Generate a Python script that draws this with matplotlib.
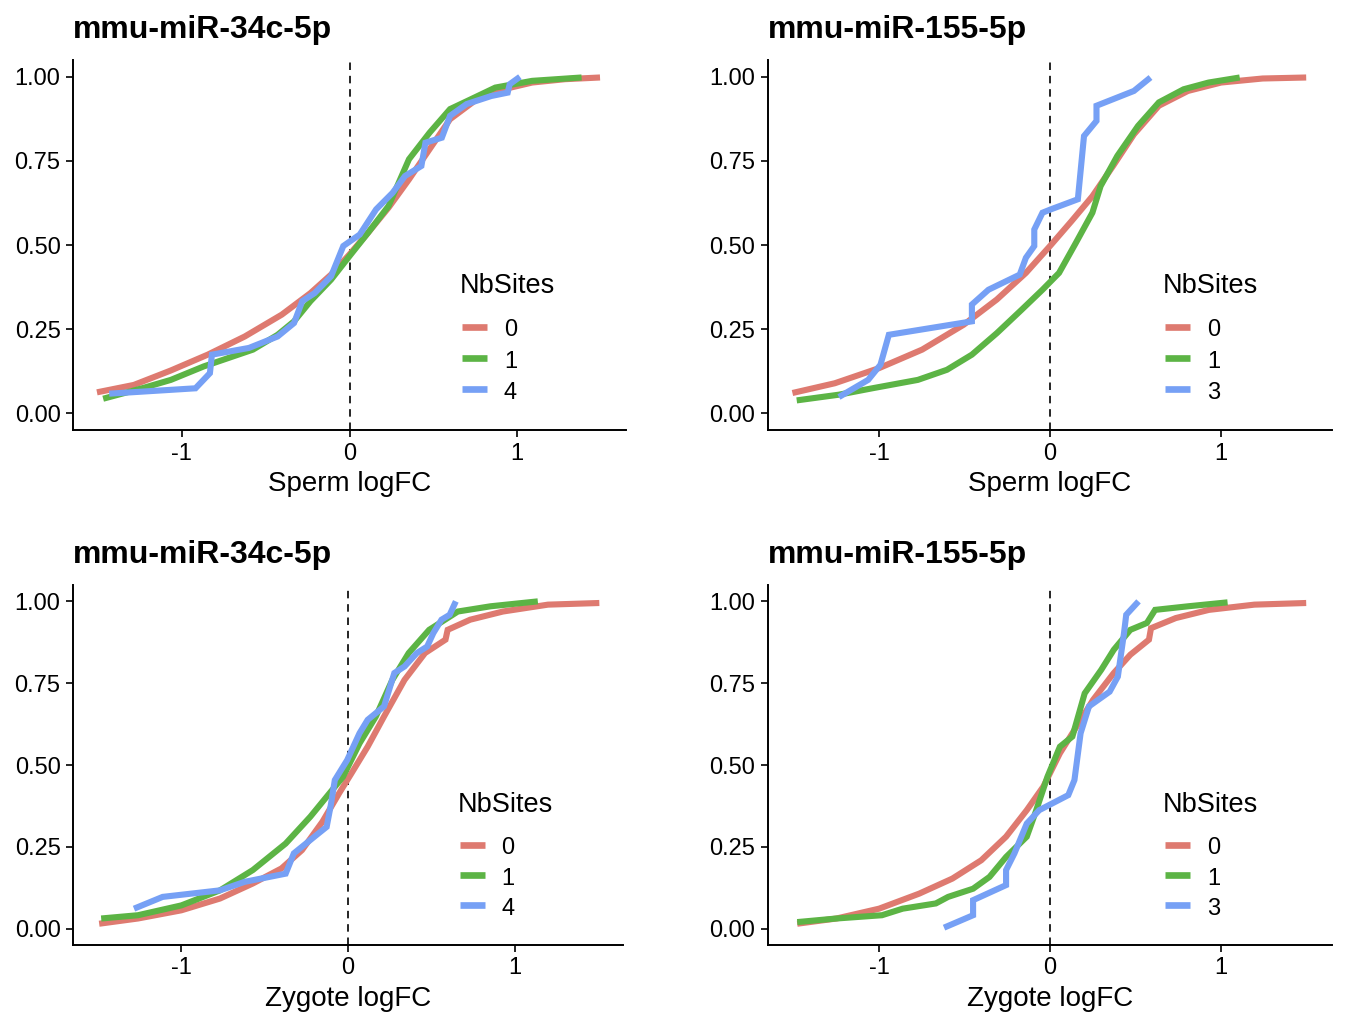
import matplotlib

matplotlib.use("Agg")
from matplotlib import pyplot as plt  # noqa: E402

# ---- data (cumulative fraction vs logFC) ----
site_labels_34c = ["0", "1", "4"]
site_labels_155 = ["0", "1", "3"]
titles = ["mmu-miR-34c-5p", "mmu-miR-155-5p", "mmu-miR-34c-5p", "mmu-miR-155-5p"]
xlabels = ["Sperm logFC", "Sperm logFC", "Zygote logFC", "Zygote logFC"]

# sperm, miR-34c
sp34_x0 = [-1.507, -1.287, -1.066, -0.846, -0.625, -0.404, -0.233, -0.11, 0.0, 0.11,
           0.233, 0.355, 0.478, 0.6, 0.748, 0.919, 1.09, 1.287, 1.495]
sp34_y0 = [0.062, 0.084, 0.127, 0.174, 0.228, 0.293, 0.357, 0.412, 0.472, 0.536,
           0.611, 0.695, 0.785, 0.874, 0.929, 0.963, 0.983, 0.993, 0.998]
sp34_x1 = [-1.47, -1.238, -1.066, -0.87, -0.723, -0.576, -0.429, -0.331, -0.233, -0.11,
           0.0, 0.11, 0.233, 0.355, 0.478, 0.6, 0.723, 0.87, 1.09, 1.385]
sp34_y1 = [0.043, 0.074, 0.099, 0.139, 0.164, 0.189, 0.233, 0.273, 0.333, 0.397,
           0.467, 0.536, 0.616, 0.755, 0.834, 0.904, 0.933, 0.968, 0.988, 0.998]
sp34_x4 = [-1.434, -0.919, -0.833, -0.821, -0.6, -0.429, -0.331, -0.282, -0.208, -0.11,
           -0.037, 0.061, 0.159, 0.257, 0.331, 0.429, 0.453, 0.551, 0.6, 0.699,
           0.846, 0.944, 0.956, 1.017]
sp34_y4 = [0.058, 0.074, 0.119, 0.174, 0.194, 0.228, 0.268, 0.333, 0.357, 0.407,
           0.497, 0.531, 0.606, 0.655, 0.705, 0.735, 0.804, 0.819, 0.884, 0.919,
           0.943, 0.953, 0.978, 1.0]

# sperm, miR-155
sp155_x0 = [-1.507, -1.259, -1.0, -0.748, -0.505, -0.311, -0.141, 0.0, 0.126, 0.248,
            0.369, 0.491, 0.637, 0.807, 1.001, 1.244, 1.499]
sp155_y0 = [0.06, 0.089, 0.134, 0.189, 0.263, 0.338, 0.417, 0.497, 0.571, 0.645,
            0.735, 0.829, 0.914, 0.958, 0.983, 0.995, 0.998]
sp155_x1 = [-1.482, -1.235, -1.04, -0.773, -0.603, -0.457, -0.311, -0.165, -0.044, 0.053,
            0.151, 0.248, 0.296, 0.394, 0.515, 0.637, 0.782, 0.928, 1.11]
sp155_y1 = [0.038, 0.055, 0.074, 0.099, 0.129, 0.174, 0.238, 0.308, 0.367, 0.417,
            0.506, 0.596, 0.675, 0.765, 0.854, 0.924, 0.963, 0.983, 0.998]
sp155_x3 = [-1.235, -1.064, -0.992, -0.943, -0.457, -0.457, -0.36, -0.177, -0.141, -0.092,
            -0.092, -0.044, 0.005, 0.163, 0.199, 0.272, 0.272, 0.491, 0.588]
sp155_y3 = [0.048, 0.099, 0.144, 0.233, 0.273, 0.323, 0.367, 0.412, 0.462, 0.497,
            0.546, 0.596, 0.606, 0.636, 0.824, 0.869, 0.914, 0.958, 0.998]

# zygote, miR-34c
zy34_x0 = [-1.493, -1.26, -1.0, -0.768, -0.571, -0.399, -0.276, -0.153, -0.054, 0.02,
           0.118, 0.216, 0.339, 0.462, 0.585, 0.598, 0.733, 0.93, 1.2, 1.508]
zy34_y0 = [0.015, 0.031, 0.056, 0.092, 0.138, 0.184, 0.24, 0.327, 0.413, 0.474,
           0.556, 0.648, 0.76, 0.842, 0.883, 0.913, 0.944, 0.969, 0.99, 0.995]
zy34_x1 = [-1.481, -1.26, -1.0, -0.768, -0.571, -0.374, -0.226, -0.128, -0.03, 0.069,
           0.167, 0.266, 0.364, 0.487, 0.659, 0.856, 1.139]
zy34_y1 = [0.031, 0.041, 0.071, 0.117, 0.179, 0.26, 0.342, 0.403, 0.464, 0.566,
           0.648, 0.76, 0.842, 0.913, 0.969, 0.985, 1.0]
zy34_x4 = [-1.284, -1.112, -0.768, -0.62, -0.374, -0.325, -0.177, -0.128, -0.103, -0.079,
           -0.005, 0.069, 0.118, 0.216, 0.278, 0.339, 0.413, 0.475, 0.512, 0.561,
           0.61, 0.647]
zy34_y4 = [0.061, 0.097, 0.117, 0.143, 0.168, 0.23, 0.291, 0.311, 0.378, 0.454,
           0.515, 0.597, 0.638, 0.679, 0.781, 0.801, 0.842, 0.862, 0.903, 0.944,
           0.959, 1.0]

# zygote, miR-155
zy155_x0 = [-1.479, -1.249, -1.0, -0.765, -0.571, -0.402, -0.257, -0.136, -0.039, 0.058,
            0.155, 0.252, 0.373, 0.47, 0.579, 0.591, 0.736, 0.93, 1.196, 1.499]
zy155_y0 = [0.015, 0.031, 0.061, 0.107, 0.153, 0.209, 0.281, 0.362, 0.434, 0.536,
            0.617, 0.699, 0.781, 0.837, 0.883, 0.918, 0.949, 0.974, 0.99, 0.995]
zy155_x1 = [-1.479, -1.249, -0.983, -0.862, -0.668, -0.596, -0.45, -0.354, -0.257, -0.136,
            -0.087, -0.015, 0.058, 0.131, 0.203, 0.3, 0.373, 0.47, 0.567, 0.615,
            0.809, 1.039]
zy155_y1 = [0.02, 0.031, 0.041, 0.061, 0.077, 0.097, 0.122, 0.158, 0.219, 0.281,
            0.352, 0.464, 0.556, 0.587, 0.719, 0.791, 0.852, 0.913, 0.934, 0.974,
            0.985, 0.997]
zy155_x3 = [-0.62, -0.45, -0.45, -0.257, -0.257, -0.208, -0.136, -0.063, 0.107, 0.143,
            0.179, 0.228, 0.349, 0.397, 0.433, 0.446, 0.518]
zy155_y3 = [0.003, 0.041, 0.087, 0.133, 0.179, 0.23, 0.321, 0.362, 0.408, 0.454,
            0.597, 0.679, 0.724, 0.77, 0.903, 0.959, 1.0]

panels = [
    [(sp34_x0, sp34_y0), (sp34_x1, sp34_y1), (sp34_x4, sp34_y4)],
    [(sp155_x0, sp155_y0), (sp155_x1, sp155_y1), (sp155_x3, sp155_y3)],
    [(zy34_x0, zy34_y0), (zy34_x1, zy34_y1), (zy34_x4, zy34_y4)],
    [(zy155_x0, zy155_y0), (zy155_x1, zy155_y1), (zy155_x3, zy155_y3)],
]
panel_labels = [site_labels_34c, site_labels_155, site_labels_34c, site_labels_155]
colors = ["#DE7A70", "#5CB445", "#76A0F5"]

plt.rcParams["font.family"] = ["Liberation Sans", "DejaVu Sans"]
plt.rcParams["axes.unicode_minus"] = False

W, H = 1348, 1027
fig = plt.figure(figsize=(W / 100, H / 100), dpi=100)

# axes boxes in pixels: left, top, right, bottom
boxes = [(73, 60, 626, 430), (768, 60, 1332, 430),
         (73, 585, 623, 945), (768, 585, 1332, 945)]

# legend layout in axes fractions
leg_title_xy = (0.700, 0.370)
key_x = (0.704, 0.749)
key_y = [0.279, 0.194, 0.110]
label_x = 0.779
label_drop = 0.026

for i, (l, t, r, b) in enumerate(boxes):
    ax = fig.add_axes([l / W, 1 - b / H, (r - l) / W, (b - t) / H])
    ax.axvline(0, color="black", lw=1.2, ls=(0, (4.5, 3.5)), zorder=1)
    for (xs, ys), c in zip(panels[i], colors):
        ax.plot(xs, ys, color=c, lw=4.4, solid_capstyle="butt",
                solid_joinstyle="miter", zorder=2)
    ax.set_xlim(-1.65, 1.65)
    ax.set_ylim(-0.05, 1.05)
    ax.set_xticks([-1, 0, 1])
    ax.set_xticklabels(["-1", "0", "1"])
    ax.set_yticks([0, 0.25, 0.5, 0.75, 1.0])
    ax.set_yticklabels(["0.00", "0.25", "0.50", "0.75", "1.00"])
    for side in ("top", "right"):
        ax.spines[side].set_visible(False)
    for side in ("left", "bottom"):
        ax.spines[side].set_linewidth(1.4)
    ax.tick_params(length=5, width=1.2, labelsize=17, pad=4, colors="black")
    ax.set_xlabel(xlabels[i], fontsize=20, labelpad=5)
    ax.set_title(titles[i], loc="left", fontsize=23, fontweight="bold", pad=16)

    # legend, drawn the way ggplot lays it out
    ax.text(*leg_title_xy, "NbSites", transform=ax.transAxes, fontsize=19.5,
            ha="left", va="baseline")
    for c, lab, ky in zip(colors, panel_labels[i], key_y):
        ax.plot(key_x, [ky, ky], color=c, lw=4.8, solid_capstyle="butt",
                transform=ax.transAxes)
        ax.text(label_x, ky - label_drop, lab, transform=ax.transAxes,
                fontsize=17, ha="left", va="baseline")

fig.savefig("out.png", dpi=100, facecolor="white")
